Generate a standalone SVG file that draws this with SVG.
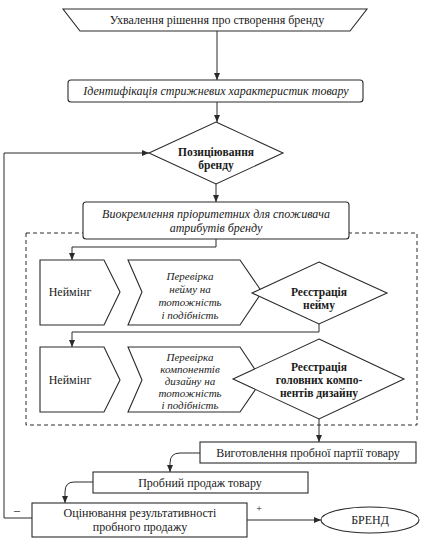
<svg xmlns="http://www.w3.org/2000/svg" width="424" height="548" viewBox="0 0 424 548" font-family="'Liberation Serif', 'DejaVu Serif', serif">
<defs>
<style>
.s{fill:#fff;stroke:#2a2a2a;stroke-width:1.1}
.c{fill:none;stroke:#2a2a2a;stroke-width:1}
.t{font-size:12px;fill:#1a1a1a;text-anchor:middle}
.i{font-style:italic}
.b{font-weight:bold;font-size:11.5px}
.m{font-size:11px}
</style>
<marker id="a" markerWidth="8" markerHeight="8" refX="7" refY="4" orient="auto" markerUnits="userSpaceOnUse">
<path d="M0,1 L7,4 L0,7 Z" fill="#2a2a2a"/>
</marker>
</defs>
<rect width="424" height="548" fill="#fff"/>
<g id="connectors">
<path class="c" d="M217,31 V80" marker-end="url(#a)"/>
<path class="c" d="M217,102 V122" marker-end="url(#a)"/>
<path class="c" d="M216,184 V202" marker-end="url(#a)"/>
<path class="c" d="M216,239 V247 H72 V260" marker-end="url(#a)"/>
<path class="c" d="M319,324 V332 H72 V347" marker-end="url(#a)"/>
<path class="c" d="M319,419 V442" marker-end="url(#a)"/>
<path class="c" d="M200,453 H180 Q170,453 170,463 V472" marker-end="url(#a)"/>
<path class="c" d="M93,482 H74 Q65,482 65,492 V503" marker-end="url(#a)"/>
<path class="c" d="M32,518 H4 V153 H149" marker-end="url(#a)"/>
<path class="c" d="M247,520 H321" marker-end="url(#a)"/>
<rect x="26" y="233" width="391" height="192" fill="none" stroke="#2a2a2a" stroke-width="1" stroke-dasharray="4,3"/>
</g>
<g id="n1">
<path class="s" d="M63,9 H367 L350,31 H80 Z"/>
<text class="t" x="217" y="24">Ухвалення рішення про створення бренду</text>
</g>
<g id="n2">
<rect class="s" x="68" y="80" width="295" height="22" rx="3"/>
<text class="t i" x="216" y="95">Ідентифікація стрижневих характеристик товару</text>
</g>
<g id="n3">
<path class="s" d="M216,122 L283,153 L216,184 L149,153 Z"/>
<text class="t b" x="216" y="155.5">Позиціювання</text>
<text class="t b" x="216" y="168.5">бренду</text>
</g>
<g id="n4">
<rect class="s" x="83" y="202" width="266" height="37" rx="3"/>
<text class="t i" x="216" y="218">Виокремлення пріоритетних для споживача</text>
<text class="t i" x="216" y="232">атрибутів бренду</text>
</g>
<g id="n5">
<path class="s" d="M40,260 H104 L120,292 L104,325 H40 Z"/>
<text class="t" x="70" y="296">Неймінг</text>
</g>
<g id="n6">
<path class="s" d="M128,260 H240 L262,292 L240,325 H128 L142,292 Z"/>
<text class="t i m" x="190" y="280">Перевірка</text>
<text class="t i m" x="190" y="293">нейму на</text>
<text class="t i m" x="190" y="306">тотожність</text>
<text class="t i m" x="190" y="319">і подібність</text>
</g>
<g id="n7">
<path class="s" d="M319,262 L387,293 L319,324 L252,293 Z"/>
<text class="t b" x="319" y="295.5">Реєстрація</text>
<text class="t b" x="319" y="308.5">нейму</text>
</g>
<g id="n8">
<path class="s" d="M40,347 H104 L120,380 L104,412 H40 Z"/>
<text class="t" x="70" y="384">Неймінг</text>
</g>
<g id="n9">
<path class="s" d="M128,347 H240 L262,380 L240,412 H128 L142,380 Z"/>
<text class="t i m" x="190" y="361">Перевірка</text>
<text class="t i m" x="190" y="373">компонентів</text>
<text class="t i m" x="190" y="385">дизайну на</text>
<text class="t i m" x="190" y="397">тотожність</text>
<text class="t i m" x="190" y="409">і подібність</text>
</g>
<g id="n10">
<path class="s" d="M319,339 L404,379 L319,419 L233,379 Z"/>
<text class="t b" x="319" y="371">Реєстрація</text>
<text class="t b" x="319" y="384">головних компо-</text>
<text class="t b" x="319" y="397">нентів дизайну</text>
</g>
<g id="n11">
<rect class="s" x="200" y="442" width="216" height="21"/>
<text class="t" x="308" y="457">Виготовлення пробної партії товару</text>
</g>
<g id="n12">
<rect class="s" x="93" y="472" width="215" height="21"/>
<text class="t" x="200" y="487">Пробний продаж товару</text>
</g>
<g id="n13">
<rect class="s" x="32" y="503" width="215" height="34"/>
<text class="t" x="140" y="517">Оцінювання результативності</text>
<text class="t" x="140" y="531">пробного продажу</text>
</g>
<g id="n14">
<ellipse class="s" cx="370" cy="520" rx="49" ry="13"/>
<text class="t" x="370" y="524">БРЕНД</text>
</g>
<text class="t" x="17" y="514">–</text>
<text class="t" x="259" y="512" style="font-size:10px">+</text>
</svg>
